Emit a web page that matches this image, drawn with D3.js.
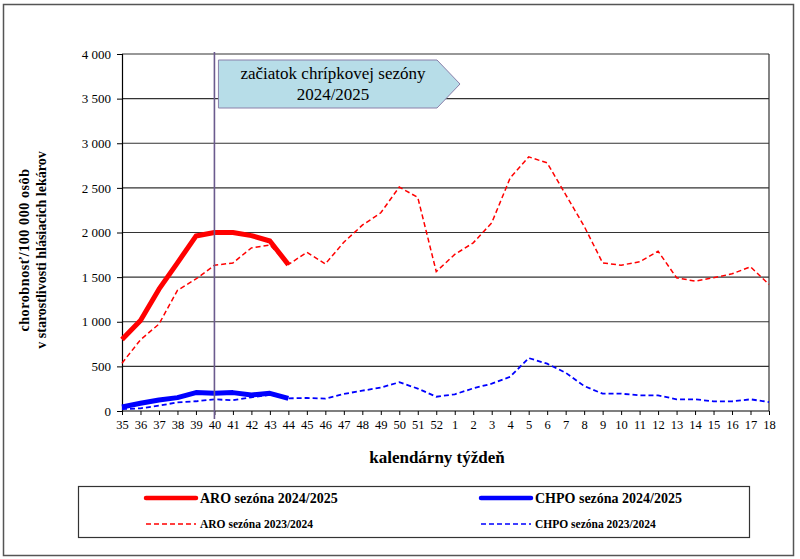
<!DOCTYPE html>
<html><head><meta charset="utf-8">
<script src="https://cdn.jsdelivr.net/npm/d3@7"></script>
<style>body{margin:0;background:#fff}svg{display:block}svg text{font-family:"Liberation Serif","Times New Roman",Times,"DejaVu Serif",serif !important}</style>
</head><body><svg id="c" width="800" height="559"></svg>
<script>
const weeks = ["35","36","37","38","39","40","41","42","43","44","45","46","47","48","49","50","51","52","1","2","3","4","5","6","7","8","9","10","11","12","13","14","15","16","17","18"];
const yTicks = [0,500,1000,1500,2000,2500,3000,3500,4000];
const aro2425 = [800,1015,1365,1660,1960,2000,2000,1965,1905,1640];
const chpo2425 = [45,86,124,150,206,198,206,180,198,142];
const aro2324 = [536,798,974,1352,1479,1633,1659,1828,1861,1640,1779,1648,1891,2082,2221,2510,2393,1562,1754,1884,2108,2612,2847,2780,2425,2071,1660,1634,1672,1791,1493,1455,1493,1537,1616,1418];
const chpo2324 = [20,30,60,97,109,131,120,154,180,142,146,139,191,228,262,322,251,160,187,254,306,384,593,530,429,280,194,194,175,175,131,131,108,108,131,100];
const seasonStart = "40";
const legendItems = [
  {label:"ARO sezóna 2024/2025", color:"#ff0000", thick:true},
  {label:"CHPO sezóna 2024/2025", color:"#0000ff", thick:true},
  {label:"ARO sezóna 2023/2024", color:"#ff0000", thick:false},
  {label:"CHPO sezóna 2023/2024", color:"#0000ff", thick:false}
];

const FONT = '"Liberation Serif","Times New Roman",Times,serif';
const svg = d3.select("#c");
const L = 122, R = 769, T = 54, B = 411;
const x = d3.scalePoint().domain(weeks).range([L, R]);
const y = d3.scaleLinear().domain([0, 4000]).range([B, T]);
const fmt = v => d3.format(",")(v).replace(/,/g, " ");

// outer frame
svg.append("rect").attr("x",3.5).attr("y",4.5).attr("width",790).attr("height",551)
  .attr("fill","none").attr("stroke","#555").attr("stroke-width",1.5);

// gridlines
svg.append("g").selectAll("line").data(yTicks.filter(d=>d>0)).join("line")
  .attr("x1",L).attr("x2",R).attr("y1",d=>y(d)).attr("y2",d=>y(d))
  .attr("stroke","#333").attr("stroke-width",1.2);
svg.append("line").attr("x1",R).attr("x2",R).attr("y1",T).attr("y2",B).attr("stroke","#333").attr("stroke-width",1.2);

// y axis
const ya = svg.append("g").attr("transform",`translate(${L},0)`)
  .call(d3.axisLeft(y).tickValues(yTicks).tickFormat(fmt).tickSize(5).tickPadding(6))
  .attr("font-family",FONT);
ya.select(".domain").attr("stroke","#000").attr("stroke-width",1.2);
ya.selectAll(".tick line").attr("stroke","#000");
ya.selectAll("text").attr("font-size",13).attr("fill","#000");

// x axis
const xa = svg.append("g").attr("transform",`translate(0,${B})`)
  .call(d3.axisBottom(x).tickSize(4).tickPadding(5))
  .attr("font-family",FONT);
xa.select(".domain").attr("stroke","#000").attr("stroke-width",1.2).attr("d",`M${L},0H${R}`);
xa.selectAll(".tick line").attr("stroke","#000");
xa.selectAll("text").attr("font-size",12.5).attr("fill","#000");

// lines
const line = d3.line().x((d,i)=>x(weeks[i])).y(d=>y(d));
svg.append("path").datum(aro2324).attr("d",line).attr("fill","none")
  .attr("stroke","#ff0000").attr("stroke-width",1.5).attr("stroke-dasharray","5,3");
svg.append("path").datum(chpo2324).attr("d",line).attr("fill","none")
  .attr("stroke","#0000ff").attr("stroke-width",1.8).attr("stroke-dasharray","5,3");
svg.append("path").datum(aro2425).attr("d",line).attr("fill","none")
  .attr("stroke","#ff0000").attr("stroke-width",5).attr("stroke-linejoin","round");
svg.append("path").datum(chpo2425).attr("d",line).attr("fill","none")
  .attr("stroke","#0000ff").attr("stroke-width",5).attr("stroke-linejoin","round");

// season start line
const sx = x(seasonStart);
svg.append("line").attr("x1",sx).attr("x2",sx).attr("y1",52).attr("y2",419)
  .attr("stroke","#6b5b8e").attr("stroke-width",1.6);

// annotation arrow box
const ax0 = sx+4, ax1 = 437, ax2 = 460, ay0 = 60, ay1 = 108;
svg.append("path")
  .attr("d",`M${ax0},${ay0}H${ax1}L${ax2},${(ay0+ay1)/2}L${ax1},${ay1}H${ax0}Z`)
  .attr("fill","#b7dde8").attr("stroke","#8a80aa").attr("stroke-width",1);
const at = svg.append("text").attr("text-anchor","middle").attr("font-size",17).attr("fill","#000").attr("font-family",FONT);
at.append("tspan").attr("x",333).attr("y",79).text("začiatok chrípkovej sezóny");
at.append("tspan").attr("x",333).attr("y",100).text("2024/2025");

// axis titles
svg.append("text").attr("x",437).attr("y",463).attr("text-anchor","middle").attr("font-family",FONT)
  .attr("font-size",17).attr("font-weight","bold").text("kalendárny týždeň");
const yt = svg.append("text").attr("transform","translate(0,250) rotate(-90)").attr("font-family",FONT)
  .attr("text-anchor","middle").attr("font-size",14).attr("font-weight","bold");
yt.append("tspan").attr("x",0).attr("y",29).attr("letter-spacing",0.6).text("chorobnosť/100 000 osôb");
yt.append("tspan").attr("x",0).attr("y",46).text("v starostlivosti hlásiacich lekárov");

// legend
svg.append("rect").attr("x",78.5).attr("y",486.5).attr("width",671).attr("height",51)
  .attr("fill","none").attr("stroke","#333").attr("stroke-width",1.2);
const lg = svg.append("g").attr("font-family",FONT).selectAll("g").data(legendItems).join("g")
  .attr("transform",(d,i)=>`translate(${i%2===0?146:481},${i<2?498:524})`);
lg.append("line").attr("x1",0).attr("x2",50).attr("y1",0).attr("y2",0)
  .attr("stroke",d=>d.color).attr("stroke-width",d=>d.thick?4.5:1.5)
  .attr("stroke-dasharray",d=>d.thick?null:"5,3").attr("stroke-linecap",d=>d.thick?"round":"butt");
lg.append("text").attr("x",54).attr("y",d=>d.thick?5:4).attr("font-weight","bold")
  .attr("font-size",d=>d.thick?14:11.5).attr("fill","#000").text(d=>d.label);
</script></body></html>
